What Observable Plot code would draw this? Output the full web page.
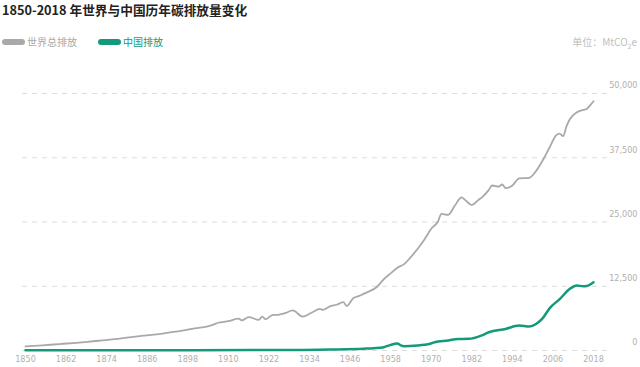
<!DOCTYPE html>
<html>
<head>
<meta charset="utf-8">
<script src="https://cdn.jsdelivr.net/npm/d3@7"></script>
<script src="https://cdn.jsdelivr.net/npm/@observablehq/plot@0.6"></script>
<style>
  html, body { margin: 0; padding: 0; background: #fff; }
  body { width: 640px; height: 367px; position: relative; overflow: hidden;
         font-family: "Noto Sans CJK SC", "Noto Sans", sans-serif; }
  #title { position: absolute; left: 2px; top: 1px; font-size: 12.7px; font-weight: 700; color: #222; line-height: 18px; }
  #legend { position: absolute; left: 2px; top: 34px; font-size: 10px; line-height: 16px; display: flex; align-items: center; }
  .item { display: flex; align-items: center; margin-right: 21px; }
  .sw { display: inline-block; width: 23px; height: 6px; border-radius: 3px; margin-right: 2px; }
  #unit { position: absolute; right: 3px; top: 34px; font-size: 10px; color: #c0c0c0; line-height: 16px; }
  #chart { position: absolute; left: 0; top: 55px; }
</style>
</head>
<body>
<div id="title">1850-2018 年世界与中国历年碳排放量变化</div>
<div id="legend"></div>
<div id="unit">单位：MtCO<sub style="font-size:7px">2</sub>e</div>
<div id="chart"></div>
<script>
const seriesNames = ["世界总排放", "中国排放"];
const seriesColors = ["#a9a9a9", "#139a7a"];

const worldYears = [1850,1855,1860,1865,1870,1875,1880,1885,1890,1895,1900,1905,1907,1910,1913,1914,1916,1919,1920,1921,1923,1925,1927,1929,1932,1935,1937,1938,1940,1942,1944,1945,1947,1949,1951,1954,1956,1958,1960,1962,1964,1966,1968,1970,1972,1973,1975,1977,1979,1980,1982,1984,1985,1987,1988,1990,1991,1992,1994,1996,1999,2001,2003,2005,2007,2008,2009,2010,2011,2013,2015,2016,2017,2018];
const worldValues = [800,1000,1250,1500,1800,2100,2500,2900,3250,3700,4300,4900,5400,5700,6200,5850,6500,5950,6600,6100,6900,7000,7300,7800,6600,7500,8100,7900,8600,8900,9400,8650,10200,10700,11300,12400,13900,15000,16100,16800,18200,19800,21600,23700,25100,26600,26400,28200,29800,29300,28300,29300,29800,31200,32100,31900,32300,31600,32100,33500,33600,34900,37000,39500,41900,42200,41700,43600,45000,46300,46800,47000,47700,48500];

const chinaYears = [1850,1900,1930,1940,1950,1953,1956,1958,1960,1961,1962,1966,1968,1969,1971,1975,1978,1981,1985,1987,1992,1996,1999,2001,2003,2005,2008,2011,2013,2015,2016,2018];
const chinaValues = [30,60,100,190,350,450,640,1100,1350,1000,840,970,1100,1200,1600,1950,2250,2270,2950,3550,4200,4850,4650,5150,6300,8200,10000,12000,12650,12500,12550,13280];

const yTicks = [0, 12500, 25000, 37500, 50000];
const xTicks = [1850,1862,1874,1886,1898,1910,1922,1934,1946,1958,1970,1982,1994,2006,2018];

const data = [
  ...worldYears.map((y, i) => ({year: y, value: worldValues[i], series: seriesNames[0]})),
  ...chinaYears.map((y, i) => ({year: y, value: chinaValues[i], series: seriesNames[1]}))
];

// legend
const leg = document.getElementById("legend");
seriesNames.forEach((n, i) => {
  const it = document.createElement("span");
  it.className = "item";
  it.innerHTML = `<span class="sw" style="background:${seriesColors[i]}"></span><span style="color:${seriesColors[i]}">${n}</span>`;
  leg.appendChild(it);
});

const tickFont = "'DejaVu Sans Condensed', 'Liberation Sans Narrow', sans-serif";

const plot = Plot.plot({
  width: 640,
  height: 312,
  marginTop: 38,
  marginBottom: 17,
  marginLeft: 25,
  marginRight: 47,
  x: {domain: [1850, 2018], ticks: xTicks, tickFormat: d => String(d)},
  y: {domain: [0, 50000]},
  color: {domain: seriesNames, range: seriesColors},
  style: {fontFamily: tickFont},
  marks: [
    Plot.ruleY(yTicks, {stroke: "#dcdcdc", strokeWidth: 1, strokeDasharray: "5,5", insetLeft: -3, insetRight: -14}),
    Plot.text(yTicks, {y: d => d, text: d => d3.format(",")(d), frameAnchor: "right", dx: 44, dy: -8, textAnchor: "end", fill: "#b0b0b0", fontSize: 9}),
    Plot.axisX({ticks: xTicks, tickSize: 0, tickPadding: 5, tickFormat: d => String(d), fill: "#b0b0b0", fontSize: 9, label: null}),
    Plot.axisY({ticks: [], label: null, tickSize: 0}),
    Plot.line(data.filter(d => d.series === seriesNames[0]), {x: "year", y: "value", stroke: seriesColors[0], strokeWidth: 1.8, curve: "monotone-x"}),
    Plot.line(data.filter(d => d.series === seriesNames[1]), {x: "year", y: "value", stroke: seriesColors[1], strokeWidth: 2.5, curve: "monotone-x"})
  ]
});
document.getElementById("chart").appendChild(plot);
</script>
</body>
</html>
